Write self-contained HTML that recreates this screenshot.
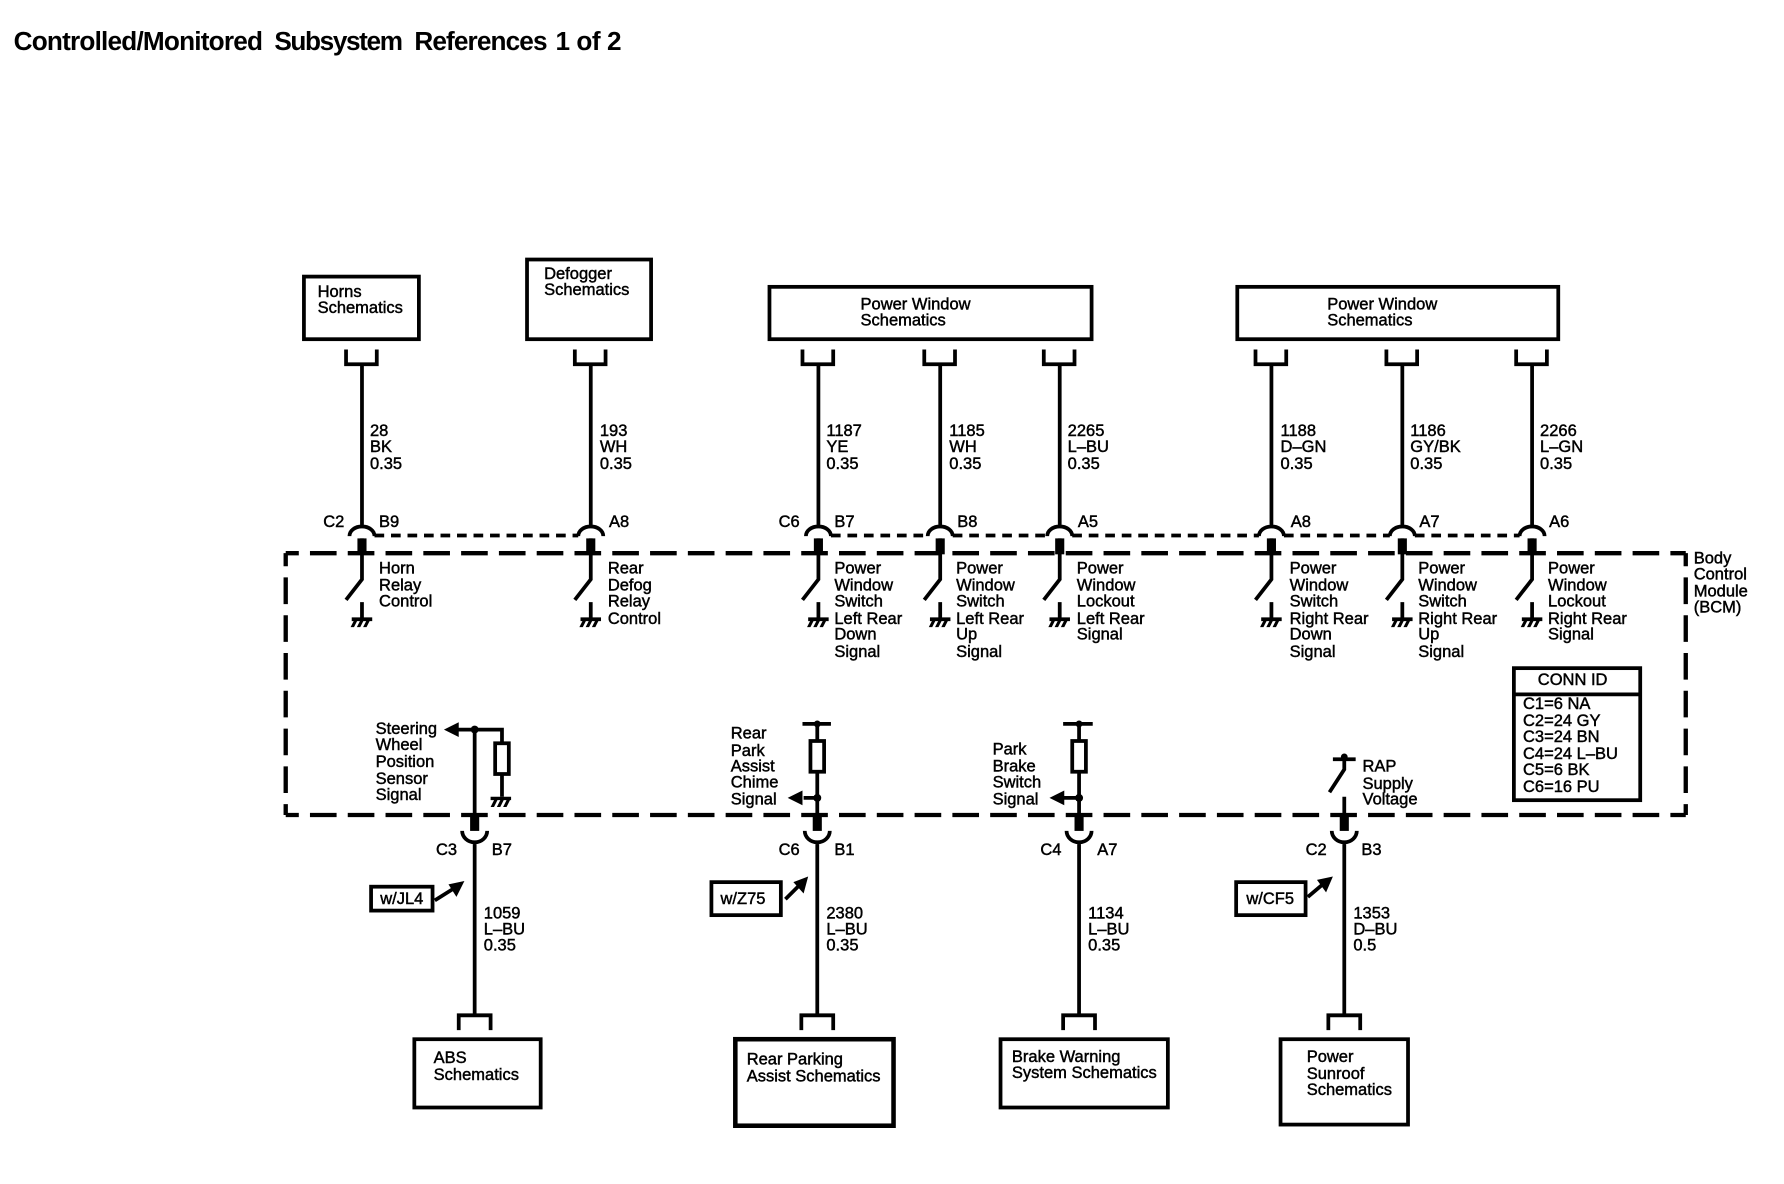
<!DOCTYPE html>
<html><head><meta charset="utf-8"><style>
html,body{margin:0;padding:0;background:#fff}
svg{display:block}
text{font-family:"Liberation Sans",sans-serif;font-size:14.5px;fill:#000;stroke:#000;stroke-width:.4}
text.t{font-size:23px;font-weight:bold;stroke-width:0}
.l{fill:none;stroke:#000;stroke-width:3.3}
.b{fill:#fff;stroke:#000;stroke-width:3.3}
.d{fill:none;stroke:#000;stroke-width:3.8;stroke-dasharray:23.4 9.8;stroke-dashoffset:11.9}
</style></head><body>
<svg width="1784" height="1184" viewBox="0 0 1567.3 1040.2" xmlns="http://www.w3.org/2000/svg">
<defs>
<g id="gnd"><path class="l" d="M0-15V0M-9 0H9" /><path d="M-10 7l3.500-7h3l-3.500 7zM-4.500 7l3.500-7h3l-3.500 7zM1 7l3.500-7h3l-3.500 7z"/></g>
<g id="top">
<path class="l" d="M-14 307V320H13V307M0 320V464M-11 471A11 8.500 0 0 1 11 471M0 473V509L-14 527"/>
<path d="M-4 473H4V487H-4z"/>
<use href="#gnd" y="544"/>
</g>
<g id="bot">
<path class="l" d="M-11 730A11 10 0 0 0 11 730M0 740V892M-14 905V892H14V905"/>
<path d="M-4 716H4V730H-4z"/>
</g>
</defs>
<text class="t" x="12" y="44" textLength="219">Controlled/Monitored</text><text class="t" x="241" y="44" textLength="113">Subsystem</text><text class="t" x="364" y="44" textLength="117">References</text><text class="t" x="488" y="44" textLength="58">1 of 2</text>
<g class="l">
<rect class="l" x="267" y="243" width="101" height="55"/>
<rect class="l" x="463" y="228" width="109" height="70"/>
<rect class="l" x="676" y="252" width="283" height="46"/>
<rect class="l" x="1087" y="252" width="282" height="46"/>
<rect class="l" x="364" y="913" width="111" height="60"/>
<rect class="l" x="646" y="913" width="139" height="76" style="stroke-width:4"/>
<rect class="l" x="879" y="913" width="147" height="60"/>
<rect class="l" x="1125" y="913" width="112" height="75"/>
<rect class="l" x="1330" y="587" width="111" height="116"/>
<path class="l" d="M1330 610H1441"/>
</g>
<path class="d" d="M251 486H1481"/>
<path class="d" d="M251 716H1481"/>
<path class="d" d="M251 486V716"/>
<path class="d" d="M1481 486V716"/>
<path class="l" style="stroke-dasharray:8.500 6" d="M329 470.500H508M730 470.500H815M837 470.500H920M942 470.500H1106M1128 470.500H1221M1243 470.500H1335"/>
<use href="#top" x="318"/><use href="#top" x="519"/><use href="#top" x="719"/><use href="#top" x="826"/><use href="#top" x="931"/><use href="#top" x="1117"/><use href="#top" x="1232"/><use href="#top" x="1346"/>
<use href="#bot" x="417"/><use href="#bot" x="718"/><use href="#bot" x="948"/><use href="#bot" x="1181"/>
<path class="l" d="M417 641V716M402 641H441V700M718 636V716M705 636H730M706 701H718M948 636V716M934 636H960M934 701H948M1171 667H1191M1181 665V676L1168 696M1181 700V716"/>
<path d="M390 641l13-6.500v13zM692 701l13-6.500v13zM922 701l13-6.500v13z"/>
<circle cx="417" cy="641" r="3.500"/><circle cx="718" cy="701" r="3.500"/><circle cx="948" cy="701" r="3.500"/><circle cx="718" cy="636" r="3"/><circle cx="948" cy="636" r="3"/><circle cx="1181" cy="665" r="3"/>
<rect class="b" x="435" y="653" width="12" height="27"/><rect class="b" x="712" y="651" width="12" height="27"/><rect class="b" x="942" y="651" width="12" height="27"/>
<path d="M431 709l3.500-7h3l-3.500 7zM436.500 709l3.500-7h3l-3.500 7zM442 709l3.500-7h3l-3.500 7zM431 700h18v3h-18z"/>
<rect class="l" x="326" y="779" width="54" height="21"/><rect class="l" x="625" y="775" width="61" height="29"/><rect class="l" x="1086" y="775" width="61" height="29"/>
<path class="l" d="M382 791L398 781M690 790L702 778M1149 788L1162 777"/>
<path d="M408 774L394 777L401 788zM710 770L697 775L706 785zM1171 770L1157 773L1165 784z"/>
<g>
<text x="279" y="261">Horns</text><text x="279" y="275">Schematics</text>
<text x="478" y="245">Defogger</text><text x="478" y="259">Schematics</text>
<text x="756" y="272">Power Window</text><text x="756" y="286">Schematics</text>
<text x="1166" y="272">Power Window</text><text x="1166" y="286">Schematics</text>
<text x="381" y="934">ABS</text><text x="381" y="949">Schematics</text>
<text x="656" y="935">Rear Parking</text><text x="656" y="950">Assist Schematics</text>
<text x="889" y="933">Brake Warning</text><text x="889" y="947">System Schematics</text>
<text x="1148" y="933">Power</text><text x="1148" y="948">Sunroof</text><text x="1148" y="962">Schematics</text>
<text x="325" y="383">28</text><text x="325" y="397">BK</text><text x="325" y="412">0.35</text>
<text x="527" y="383">193</text><text x="527" y="397">WH</text><text x="527" y="412">0.35</text>
<text x="726" y="383">1187</text><text x="726" y="397">YE</text><text x="726" y="412">0.35</text>
<text x="834" y="383">1185</text><text x="834" y="397">WH</text><text x="834" y="412">0.35</text>
<text x="938" y="383">2265</text><text x="938" y="397">L–BU</text><text x="938" y="412">0.35</text>
<text x="1125" y="383">1188</text><text x="1125" y="397">D–GN</text><text x="1125" y="412">0.35</text>
<text x="1239" y="383">1186</text><text x="1239" y="397">GY/BK</text><text x="1239" y="412">0.35</text>
<text x="1353" y="383">2266</text><text x="1353" y="397">L–GN</text><text x="1353" y="412">0.35</text>
<text x="284" y="463">C2</text><text x="333" y="463">B9</text><text x="535" y="463">A8</text><text x="684" y="463">C6</text><text x="733" y="463">B7</text><text x="841" y="463">B8</text><text x="947" y="463">A5</text><text x="1134" y="463">A8</text><text x="1247" y="463">A7</text><text x="1361" y="463">A6</text>
<text x="333" y="504">Horn</text><text x="333" y="519">Relay</text><text x="333" y="533">Control</text>
<text x="534" y="504">Rear</text><text x="534" y="519">Defog</text><text x="534" y="533">Relay</text><text x="534" y="548">Control</text>
<text x="733" y="504">Power</text><text x="733" y="519">Window</text><text x="733" y="533">Switch</text><text x="733" y="548">Left Rear</text><text x="733" y="562">Down</text><text x="733" y="577">Signal</text>
<text x="840" y="504">Power</text><text x="840" y="519">Window</text><text x="840" y="533">Switch</text><text x="840" y="548">Left Rear</text><text x="840" y="562">Up</text><text x="840" y="577">Signal</text>
<text x="946" y="504">Power</text><text x="946" y="519">Window</text><text x="946" y="533">Lockout</text><text x="946" y="548">Left Rear</text><text x="946" y="562">Signal</text>
<text x="1133" y="504">Power</text><text x="1133" y="519">Window</text><text x="1133" y="533">Switch</text><text x="1133" y="548">Right Rear</text><text x="1133" y="562">Down</text><text x="1133" y="577">Signal</text>
<text x="1246" y="504">Power</text><text x="1246" y="519">Window</text><text x="1246" y="533">Switch</text><text x="1246" y="548">Right Rear</text><text x="1246" y="562">Up</text><text x="1246" y="577">Signal</text>
<text x="1360" y="504">Power</text><text x="1360" y="519">Window</text><text x="1360" y="533">Lockout</text><text x="1360" y="548">Right Rear</text><text x="1360" y="562">Signal</text>
<text x="1488" y="495">Body</text><text x="1488" y="509">Control</text><text x="1488" y="524">Module</text><text x="1488" y="538">(BCM)</text>
<text x="1351" y="602">CONN ID</text>
<text x="1338" y="623">C1=6 NA</text><text x="1338" y="638">C2=24 GY</text><text x="1338" y="652">C3=24 BN</text><text x="1338" y="667">C4=24 L–BU</text><text x="1338" y="681">C5=6 BK</text><text x="1338" y="696">C6=16 PU</text>
<text x="330" y="645">Steering</text><text x="330" y="659">Wheel</text><text x="330" y="674">Position</text><text x="330" y="689">Sensor</text><text x="330" y="703">Signal</text>
<text x="642" y="649">Rear</text><text x="642" y="664">Park</text><text x="642" y="678">Assist</text><text x="642" y="692">Chime</text><text x="642" y="707">Signal</text>
<text x="872" y="663">Park</text><text x="872" y="678">Brake</text><text x="872" y="692">Switch</text><text x="872" y="707">Signal</text>
<text x="1197" y="678">RAP</text><text x="1197" y="693">Supply</text><text x="1197" y="707">Voltage</text>
<text x="383" y="751">C3</text><text x="432" y="751">B7</text><text x="684" y="751">C6</text><text x="733" y="751">B1</text><text x="914" y="751">C4</text><text x="964" y="751">A7</text><text x="1147" y="751">C2</text><text x="1196" y="751">B3</text>
<text x="425" y="807">1059</text><text x="425" y="821">L–BU</text><text x="425" y="835">0.35</text>
<text x="726" y="807">2380</text><text x="726" y="821">L–BU</text><text x="726" y="835">0.35</text>
<text x="956" y="807">1134</text><text x="956" y="821">L–BU</text><text x="956" y="835">0.35</text>
<text x="1189" y="807">1353</text><text x="1189" y="821">D–BU</text><text x="1189" y="835">0.5</text>
<text x="334" y="794">w/JL4</text><text x="633" y="794">w/Z75</text><text x="1095" y="794">w/CF5</text>
</g>
</svg>
</body></html>
